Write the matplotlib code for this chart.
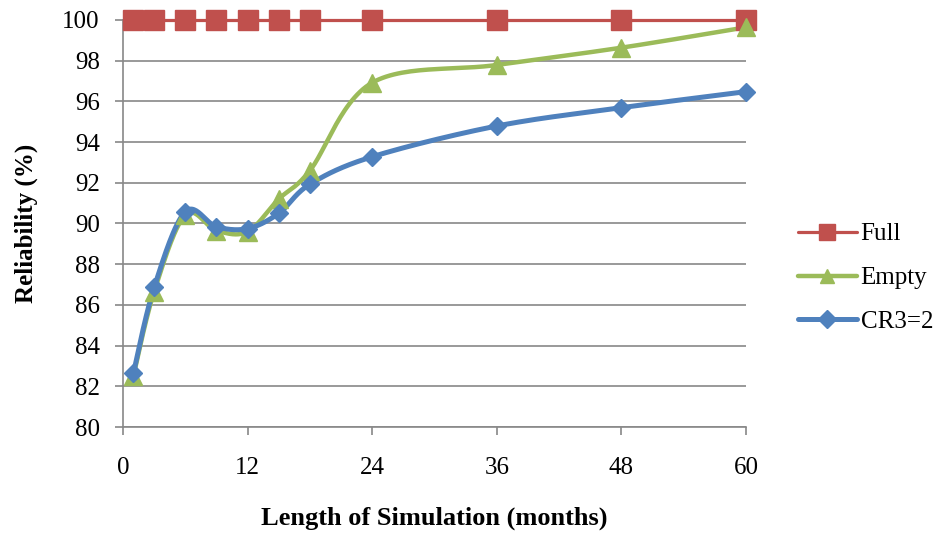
import numpy as np
import matplotlib
matplotlib.use("Agg")
import matplotlib.pyplot as plt
from matplotlib.lines import Line2D

months = [1, 3, 6, 9, 12, 15, 18, 24, 36, 48, 60]
full = [100, 100, 100, 100, 100, 100, 100, 100, 100, 100, 100]
empty = [82.5, 86.65, 90.42, 89.65, 89.6, 91.2, 92.6, 96.92, 97.79, 98.64, 99.64]
cr3 = [82.64, 86.86, 90.58, 89.84, 89.75, 90.5, 91.93, 93.28, 94.79, 95.69, 96.48]
series_names = ["Full", "Empty", "CR3=2"]
xticks = [0, 12, 24, 36, 48, 60]
yticks = list(range(80, 101, 2))

plt.rcParams['font.family'] = ['Liberation Serif', 'DejaVu Serif']


def smooth(x, y, n=30):
    x = np.asarray(x, float)
    y = np.asarray(y, float)
    px = np.concatenate([[x[0]], x, [x[-1]]])
    py = np.concatenate([[y[0]], y, [y[-1]]])
    t = np.linspace(0, 1, n)
    xs, ys = [], []
    for i in range(1, len(px) - 2):
        p0 = np.array([px[i], py[i]])
        p3 = np.array([px[i + 1], py[i + 1]])
        p1 = p0 + (p3 - np.array([px[i - 1], py[i - 1]])) / 6
        p2 = p3 - (np.array([px[i + 2], py[i + 2]]) - p0) / 6
        b = ((1 - t) ** 3)[:, None] * p0 + (3 * (1 - t) ** 2 * t)[:, None] * p1 \
            + (3 * (1 - t) * t ** 2)[:, None] * p2 + (t ** 3)[:, None] * p3
        xs.append(b[:, 0])
        ys.append(b[:, 1])
    return np.concatenate(xs), np.concatenate(ys)


fig = plt.figure(figsize=(9.4, 5.38), dpi=100)
ax = fig.add_axes([123 / 940, 1 - 427 / 538, (746 - 123) / 940, (427 - 20) / 538])

grid_c = '#888888'
colors = ['#C0504D', '#9BBB59', '#4F81BD']
markers = ['s', '^', 'D']
msizes = [14, 12.5, 9.5]
leg_ms = [12, 10, 9]
lws = [2.3, 3.2, 3.6]
data = [full, empty, cr3]

handles = []
for name, vals, c, m, ms, lms, lw in zip(series_names, data, colors, markers, msizes, leg_ms, lws):
    sx, sy = smooth(months, vals)
    ax.plot(sx, sy, color=c, lw=lw, solid_capstyle='round', zorder=3, clip_on=False)
    ax.plot(months, vals, linestyle='none', marker=m, markersize=ms, color=c,
            markeredgecolor=c, zorder=4, clip_on=False)
    handles.append(Line2D([], [], color=c, lw=lw, marker=m, markersize=lms,
                          markeredgecolor=c, solid_capstyle='round'))

ax.set_xlim(0, 60)
ax.set_ylim(80, 100)
ax.set_xticks(xticks)
ax.set_yticks(yticks)
ax.yaxis.grid(True, color=grid_c, lw=1.2)
ax.set_axisbelow(True)
for s in ['top', 'right']:
    ax.spines[s].set_visible(False)
for s in ['left', 'bottom']:
    ax.spines[s].set_color(grid_c)
    ax.spines[s].set_linewidth(1.2)
ax.tick_params(axis='both', direction='out', length=5.8, width=1.2, color=grid_c,
               labelsize=18, labelcolor='black')
ax.tick_params(axis='x', pad=16)
ax.tick_params(axis='y', pad=11)

ax.set_xlabel('Length of Simulation (months)', fontsize=19, fontweight='bold')
ax.set_ylabel('Reliability (%)', fontsize=18, fontweight='bold')
ax.xaxis.set_label_coords((434 - 123) / 623, (427 - 507) / 407)
ax.yaxis.set_label_coords((38 - 123) / 623, 0.5)

fig.legend(handles, series_names, loc='center left', bbox_to_anchor=(798 / 940, 1 - 278 / 538),
           frameon=False, fontsize=18, handlelength=2.35, handletextpad=0.15,
           labelspacing=0.85, borderaxespad=0, borderpad=0)

fig.savefig('out.png', dpi=100)
